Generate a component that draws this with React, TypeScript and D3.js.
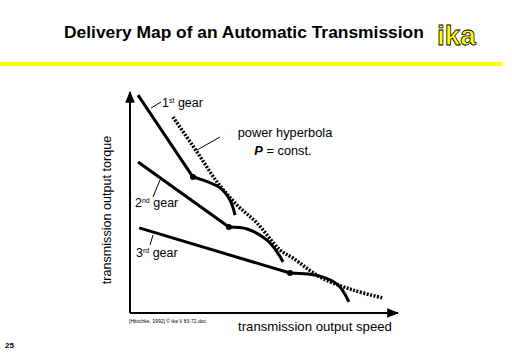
import { useEffect, useRef } from 'react';
import * as d3 from 'd3';

// chart values in arbitrary units (speed 0..100, torque 0..100)
const gear1Line = [[3.0, 98.6], [23.5, 61.5]];
const gear1Curve = [[23.5, 61.5], [26.1, 60.6], [33.6, 56.6], [37.3, 51.1], [39.2, 44.3]];
const gear2Line = [[3.0, 68.3], [36.9, 38.9]];
const gear2Curve = [[36.9, 38.9], [43.7, 38.0], [51.1, 33.0], [54.9, 27.6], [57.1, 23.1]];
const gear3Line = [[3.4, 38.5], [59.7, 18.1]];
const gear3Curve = [[59.7, 18.1], [70.9, 16.7], [77.6, 12.7], [81.7, 5.0]];
const hyperbola = [[16.0, 88.7], [25.0, 72.9], [32.5, 59.3], [39.9, 48.9], [47.4, 40.7], [56.0, 28.5], [60.8, 24.9], [70.9, 16.3], [83.2, 10.4], [94.4, 6.8]];
const shiftPoints = [[23.5, 61.5], [36.9, 38.9], [59.7, 18.1]];

const title = 'Delivery Map of an Automatic Transmission';
const xLabel = 'transmission output speed';
const yLabel = 'transmission output torque';
const source = '[Hitschke, 1992] \u00a9 ika V 83-72.doc';

export default function App() {
  const ref = useRef<SVGSVGElement>(null);

  useEffect(() => {
    const width = 512, height = 354;
    const svg = d3.select(ref.current);
    svg.selectAll('*').remove();
    svg.attr('width', width).attr('height', height);
    svg.append('rect').attr('width', width).attr('height', height).attr('fill', '#fff');

    const font = 'Liberation Sans, Arial, sans-serif';
    const x = d3.scaleLinear().domain([0, 100]).range([130, 398]);
    const y = d3.scaleLinear().domain([0, 100]).range([313, 92]);

    // header
    svg.append('text').attr('x', 64).attr('y', 38).attr('font-family', font)
      .attr('font-weight', 'bold').attr('font-size', 17.4).text(title);
    svg.append('text').attr('x', 437).attr('y', 45).attr('font-family', font)
      .attr('font-weight', 'bold').attr('font-size', 28).attr('fill', '#ffff00')
      .attr('stroke', '#000').attr('stroke-width', 0.8).text('ika');
    svg.append('rect').attr('x', 0).attr('y', 62).attr('width', 503).attr('height', 4).attr('fill', '#ffff00');

    const defs = svg.append('defs');
    defs.append('marker').attr('id', 'arr').attr('viewBox', '0 0 10 10').attr('refX', 9).attr('refY', 5)
      .attr('markerWidth', 6).attr('markerHeight', 6).attr('orient', 'auto')
      .append('path').attr('d', 'M0,1 L10,5 L0,9 z').attr('fill', '#000');

    // axes
    svg.append('line').attr('x1', x(0)).attr('y1', y(0)).attr('x2', x(0)).attr('y2', y(100))
      .attr('stroke', '#000').attr('stroke-width', 2).attr('marker-end', 'url(#arr)');
    svg.append('line').attr('x1', x(0)).attr('y1', y(0)).attr('x2', x(100)).attr('y2', y(0))
      .attr('stroke', '#000').attr('stroke-width', 2).attr('marker-end', 'url(#arr)');

    const line = d3.line<number[]>().x(d => x(d[0])).y(d => y(d[1]));
    const curve = d3.line<number[]>().x(d => x(d[0])).y(d => y(d[1])).curve(d3.curveCatmullRom);

    svg.append('path').attr('d', curve(hyperbola)).attr('fill', 'none').attr('stroke', '#000')
      .attr('stroke-width', 3.5).attr('stroke-dasharray', '2,1.5');

    [gear1Line, gear2Line, gear3Line].forEach(g => {
      svg.append('path').attr('d', line(g)).attr('fill', 'none').attr('stroke', '#000').attr('stroke-width', 3);
    });
    [gear1Curve, gear2Curve, gear3Curve].forEach(g => {
      svg.append('path').attr('d', curve(g)).attr('fill', 'none').attr('stroke', '#000').attr('stroke-width', 3);
    });
    svg.selectAll('circle.sp').data(shiftPoints).join('circle').attr('class', 'sp')
      .attr('cx', d => x(d[0])).attr('cy', d => y(d[1])).attr('r', 3).attr('fill', '#000');

    // labels with leaders
    const leader = (x1: number, y1: number, x2: number, y2: number) =>
      svg.append('line').attr('x1', x1).attr('y1', y1).attr('x2', x2).attr('y2', y2)
        .attr('stroke', '#000').attr('stroke-width', 1);
    const gearLabel = (lx: number, ly: number, n: string, sup: string) => {
      const t = svg.append('text').attr('x', lx).attr('y', ly).attr('font-family', font).attr('font-size', 12.5);
      t.append('tspan').text(n);
      t.append('tspan').attr('font-size', 7).attr('dy', -4).text(sup);
      t.append('tspan').attr('dy', 4).text(' gear');
    };
    leader(151, 108, 161, 102);
    gearLabel(162, 107, '1', 'st');
    leader(160, 180, 153, 197);
    gearLabel(135, 207, '2', 'nd');
    leader(153, 235, 150, 245);
    gearLabel(136, 257, '3', 'rd');

    leader(197, 150, 220, 137);
    svg.append('text').attr('x', 285).attr('y', 137).attr('text-anchor', 'middle')
      .attr('font-family', font).attr('font-size', 12.8).text('power hyperbola');
    const pc = svg.append('text').attr('x', 283).attr('y', 155).attr('text-anchor', 'middle')
      .attr('font-family', font).attr('font-size', 12.8);
    pc.append('tspan').attr('font-weight', 'bold').attr('font-style', 'italic').text('P');
    pc.append('tspan').text(' = const.');

    // axis titles
    svg.append('text').attr('transform', 'translate(111,210) rotate(-90)').attr('text-anchor', 'middle')
      .attr('font-family', font).attr('font-size', 12.6).text(yLabel);
    svg.append('text').attr('x', 238).attr('y', 331).attr('font-family', font).attr('font-size', 13.2).text(xLabel);
    svg.append('text').attr('x', 129).attr('y', 323).attr('font-family', font).attr('font-size', 5).text(source);
    svg.append('text').attr('x', 5).attr('y', 348).attr('font-family', font).attr('font-weight', 'bold')
      .attr('font-size', 8).text('25');
  }, []);

  return <svg ref={ref} style={{ position: 'absolute', left: 0, top: 0 }}></svg>;
}
